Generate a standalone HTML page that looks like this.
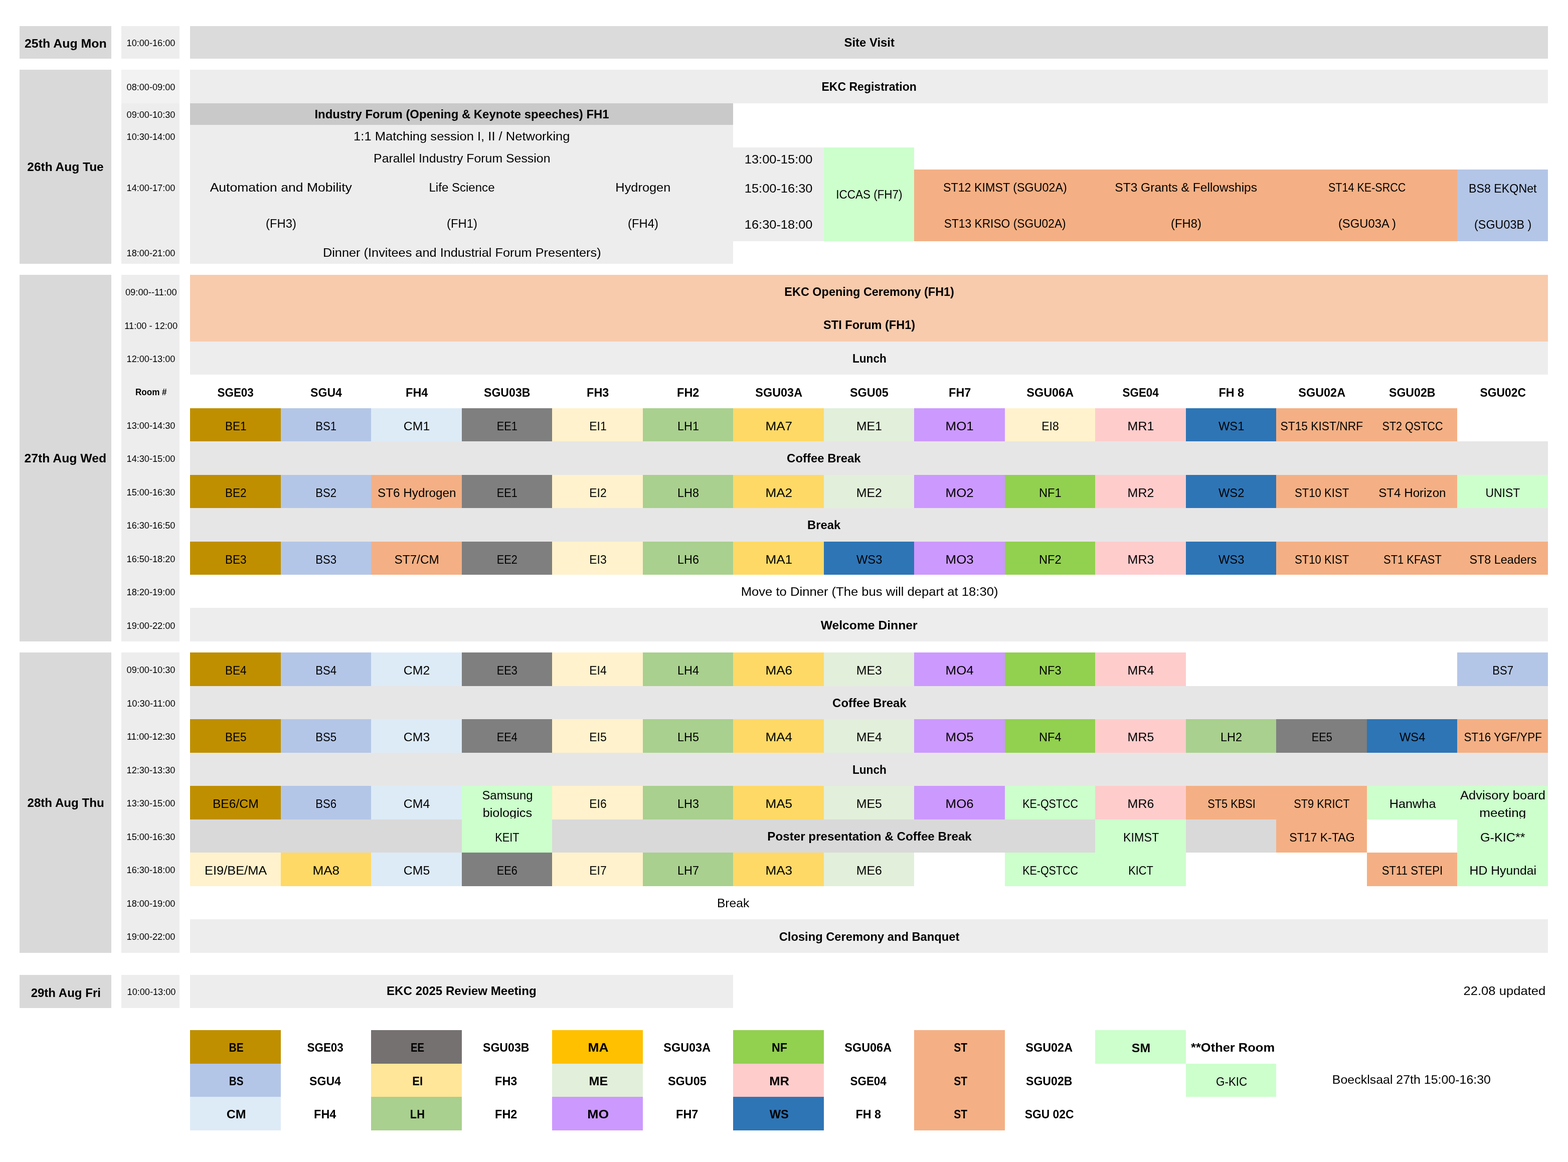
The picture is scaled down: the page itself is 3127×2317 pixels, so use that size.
<!DOCTYPE html>
<html lang="en">
<head>
<meta charset="utf-8">
<title>EKC 2025 Programme Schedule</title>
<style>
html,body{margin:0;padding:0;background:#fff}
body{width:3127px;height:2317px;position:relative;overflow:hidden;font-family:"Liberation Sans",Arial,sans-serif;color:#000}
.r{position:absolute}
.t{position:absolute;height:40px;line-height:40px;white-space:nowrap;text-align:center;font-size:24.6px}
.s{font-size:17.6px}
.b{font-weight:bold}
.t span{display:inline-block;transform-origin:50% 50%}
.l{text-align:left}.l span{transform-origin:0 50%}
.e{text-align:right}.e span{transform-origin:100% 50%}
</style>
</head>
<body>
<div class="r" style="left:39px;top:52px;width:183px;height:65px;background:#D9D9D9"></div>
<div class="r" style="left:39px;top:139px;width:183px;height:387px;background:#D9D9D9"></div>
<div class="r" style="left:39px;top:548px;width:183px;height:731px;background:#D9D9D9"></div>
<div class="r" style="left:39px;top:1301px;width:183px;height:599px;background:#D9D9D9"></div>
<div class="r" style="left:39px;top:1944px;width:183px;height:66px;background:#D9D9D9"></div>
<div class="r" style="left:242px;top:52px;width:116px;height:65px;background:#EDEDED"></div>
<div class="r" style="left:242px;top:139px;width:116px;height:387px;background:#EDEDED"></div>
<div class="r" style="left:242px;top:139px;width:116px;height:67px;background:#F2F2F2"></div>
<div class="r" style="left:242px;top:548px;width:116px;height:731px;background:#EDEDED"></div>
<div class="r" style="left:242px;top:1301px;width:116px;height:599px;background:#EDEDED"></div>
<div class="r" style="left:242px;top:1944px;width:116px;height:66px;background:#EDEDED"></div>
<div class="r" style="left:379px;top:52px;width:2708px;height:65px;background:#DBDBDB"></div>
<div class="r" style="left:379px;top:139px;width:2708px;height:67px;background:#EDEDED"></div>
<div class="r" style="left:379px;top:206px;width:1083px;height:43px;background:#C9C9C9"></div>
<div class="r" style="left:379px;top:249px;width:1083px;height:277px;background:#EDEDED"></div>
<div class="r" style="left:1462px;top:294px;width:181px;height:187px;background:#EDEDED"></div>
<div class="r" style="left:1643px;top:294px;width:180px;height:187px;background:#CCFFCC"></div>
<div class="r" style="left:1823px;top:338px;width:1083px;height:143px;background:#F4B084"></div>
<div class="r" style="left:2906px;top:338px;width:181px;height:143px;background:#B4C6E7"></div>
<div class="r" style="left:379px;top:548px;width:2708px;height:133px;background:#F8CBAD"></div>
<div class="r" style="left:379px;top:681px;width:2708px;height:66px;background:#EDEDED"></div>
<div class="r" style="left:379px;top:814px;width:181px;height:66px;background:#BF8F00"></div>
<div class="r" style="left:560px;top:814px;width:180px;height:66px;background:#B4C6E7"></div>
<div class="r" style="left:740px;top:814px;width:181px;height:66px;background:#DDEBF7"></div>
<div class="r" style="left:921px;top:814px;width:180px;height:66px;background:#7F7F7F"></div>
<div class="r" style="left:1101px;top:814px;width:181px;height:66px;background:#FFF2CC"></div>
<div class="r" style="left:1282px;top:814px;width:180px;height:66px;background:#A9D08E"></div>
<div class="r" style="left:1462px;top:814px;width:181px;height:66px;background:#FFD966"></div>
<div class="r" style="left:1643px;top:814px;width:180px;height:66px;background:#E2EFDA"></div>
<div class="r" style="left:1823px;top:814px;width:181px;height:66px;background:#CC99FF"></div>
<div class="r" style="left:2004px;top:814px;width:180px;height:66px;background:#FFF2CC"></div>
<div class="r" style="left:2184px;top:814px;width:181px;height:66px;background:#FFCCCC"></div>
<div class="r" style="left:2365px;top:814px;width:180px;height:66px;background:#2E75B6"></div>
<div class="r" style="left:2545px;top:814px;width:181px;height:66px;background:#F4B084"></div>
<div class="r" style="left:2726px;top:814px;width:180px;height:66px;background:#F4B084"></div>
<div class="r" style="left:379px;top:880px;width:2708px;height:67px;background:#E7E6E6"></div>
<div class="r" style="left:379px;top:947px;width:181px;height:66px;background:#BF8F00"></div>
<div class="r" style="left:560px;top:947px;width:180px;height:66px;background:#B4C6E7"></div>
<div class="r" style="left:740px;top:947px;width:181px;height:66px;background:#F4B084"></div>
<div class="r" style="left:921px;top:947px;width:180px;height:66px;background:#7F7F7F"></div>
<div class="r" style="left:1101px;top:947px;width:181px;height:66px;background:#FFF2CC"></div>
<div class="r" style="left:1282px;top:947px;width:180px;height:66px;background:#A9D08E"></div>
<div class="r" style="left:1462px;top:947px;width:181px;height:66px;background:#FFD966"></div>
<div class="r" style="left:1643px;top:947px;width:180px;height:66px;background:#E2EFDA"></div>
<div class="r" style="left:1823px;top:947px;width:181px;height:66px;background:#CC99FF"></div>
<div class="r" style="left:2004px;top:947px;width:180px;height:66px;background:#92D050"></div>
<div class="r" style="left:2184px;top:947px;width:181px;height:66px;background:#FFCCCC"></div>
<div class="r" style="left:2365px;top:947px;width:180px;height:66px;background:#2E75B6"></div>
<div class="r" style="left:2545px;top:947px;width:181px;height:66px;background:#F4B084"></div>
<div class="r" style="left:2726px;top:947px;width:180px;height:66px;background:#F4B084"></div>
<div class="r" style="left:2906px;top:947px;width:181px;height:66px;background:#CCFFCC"></div>
<div class="r" style="left:379px;top:1013px;width:2708px;height:67px;background:#E7E6E6"></div>
<div class="r" style="left:379px;top:1080px;width:181px;height:66px;background:#BF8F00"></div>
<div class="r" style="left:560px;top:1080px;width:180px;height:66px;background:#B4C6E7"></div>
<div class="r" style="left:740px;top:1080px;width:181px;height:66px;background:#F4B084"></div>
<div class="r" style="left:921px;top:1080px;width:180px;height:66px;background:#7F7F7F"></div>
<div class="r" style="left:1101px;top:1080px;width:181px;height:66px;background:#FFF2CC"></div>
<div class="r" style="left:1282px;top:1080px;width:180px;height:66px;background:#A9D08E"></div>
<div class="r" style="left:1462px;top:1080px;width:181px;height:66px;background:#FFD966"></div>
<div class="r" style="left:1643px;top:1080px;width:180px;height:66px;background:#2E75B6"></div>
<div class="r" style="left:1823px;top:1080px;width:181px;height:66px;background:#CC99FF"></div>
<div class="r" style="left:2004px;top:1080px;width:180px;height:66px;background:#92D050"></div>
<div class="r" style="left:2184px;top:1080px;width:181px;height:66px;background:#FFCCCC"></div>
<div class="r" style="left:2365px;top:1080px;width:180px;height:66px;background:#2E75B6"></div>
<div class="r" style="left:2545px;top:1080px;width:181px;height:66px;background:#F4B084"></div>
<div class="r" style="left:2726px;top:1080px;width:180px;height:66px;background:#F4B084"></div>
<div class="r" style="left:2906px;top:1080px;width:181px;height:66px;background:#F4B084"></div>
<div class="r" style="left:379px;top:1212px;width:2708px;height:67px;background:#EDEDED"></div>
<div class="r" style="left:379px;top:1301px;width:181px;height:67px;background:#BF8F00"></div>
<div class="r" style="left:560px;top:1301px;width:180px;height:67px;background:#B4C6E7"></div>
<div class="r" style="left:740px;top:1301px;width:181px;height:67px;background:#DDEBF7"></div>
<div class="r" style="left:921px;top:1301px;width:180px;height:67px;background:#7F7F7F"></div>
<div class="r" style="left:1101px;top:1301px;width:181px;height:67px;background:#FFF2CC"></div>
<div class="r" style="left:1282px;top:1301px;width:180px;height:67px;background:#A9D08E"></div>
<div class="r" style="left:1462px;top:1301px;width:181px;height:67px;background:#FFD966"></div>
<div class="r" style="left:1643px;top:1301px;width:180px;height:67px;background:#E2EFDA"></div>
<div class="r" style="left:1823px;top:1301px;width:181px;height:67px;background:#CC99FF"></div>
<div class="r" style="left:2004px;top:1301px;width:180px;height:67px;background:#92D050"></div>
<div class="r" style="left:2184px;top:1301px;width:181px;height:67px;background:#FFCCCC"></div>
<div class="r" style="left:2906px;top:1301px;width:181px;height:67px;background:#B4C6E7"></div>
<div class="r" style="left:379px;top:1368px;width:2708px;height:66px;background:#E7E6E6"></div>
<div class="r" style="left:379px;top:1434px;width:181px;height:67px;background:#BF8F00"></div>
<div class="r" style="left:560px;top:1434px;width:180px;height:67px;background:#B4C6E7"></div>
<div class="r" style="left:740px;top:1434px;width:181px;height:67px;background:#DDEBF7"></div>
<div class="r" style="left:921px;top:1434px;width:180px;height:67px;background:#7F7F7F"></div>
<div class="r" style="left:1101px;top:1434px;width:181px;height:67px;background:#FFF2CC"></div>
<div class="r" style="left:1282px;top:1434px;width:180px;height:67px;background:#A9D08E"></div>
<div class="r" style="left:1462px;top:1434px;width:181px;height:67px;background:#FFD966"></div>
<div class="r" style="left:1643px;top:1434px;width:180px;height:67px;background:#E2EFDA"></div>
<div class="r" style="left:1823px;top:1434px;width:181px;height:67px;background:#CC99FF"></div>
<div class="r" style="left:2004px;top:1434px;width:180px;height:67px;background:#92D050"></div>
<div class="r" style="left:2184px;top:1434px;width:181px;height:67px;background:#FFCCCC"></div>
<div class="r" style="left:2365px;top:1434px;width:180px;height:67px;background:#A9D08E"></div>
<div class="r" style="left:2545px;top:1434px;width:181px;height:67px;background:#7F7F7F"></div>
<div class="r" style="left:2726px;top:1434px;width:180px;height:67px;background:#2E75B6"></div>
<div class="r" style="left:2906px;top:1434px;width:181px;height:67px;background:#F4B084"></div>
<div class="r" style="left:379px;top:1501px;width:2708px;height:66px;background:#E7E6E6"></div>
<div class="r" style="left:379px;top:1567px;width:181px;height:67px;background:#BF8F00"></div>
<div class="r" style="left:560px;top:1567px;width:180px;height:67px;background:#B4C6E7"></div>
<div class="r" style="left:740px;top:1567px;width:181px;height:67px;background:#DDEBF7"></div>
<div class="r" style="left:921px;top:1567px;width:180px;height:67px;background:#CCFFCC"></div>
<div class="r" style="left:1101px;top:1567px;width:181px;height:67px;background:#FFF2CC"></div>
<div class="r" style="left:1282px;top:1567px;width:180px;height:67px;background:#A9D08E"></div>
<div class="r" style="left:1462px;top:1567px;width:181px;height:67px;background:#FFD966"></div>
<div class="r" style="left:1643px;top:1567px;width:180px;height:67px;background:#E2EFDA"></div>
<div class="r" style="left:1823px;top:1567px;width:181px;height:67px;background:#CC99FF"></div>
<div class="r" style="left:2004px;top:1567px;width:180px;height:67px;background:#CCFFCC"></div>
<div class="r" style="left:2184px;top:1567px;width:181px;height:67px;background:#FFCCCC"></div>
<div class="r" style="left:2365px;top:1567px;width:180px;height:67px;background:#F4B084"></div>
<div class="r" style="left:2545px;top:1567px;width:181px;height:67px;background:#F4B084"></div>
<div class="r" style="left:2726px;top:1567px;width:180px;height:67px;background:#CCFFCC"></div>
<div class="r" style="left:2906px;top:1567px;width:181px;height:67px;background:#CCFFCC"></div>
<div class="r" style="left:379px;top:1634px;width:542px;height:66px;background:#D9D9D9"></div>
<div class="r" style="left:921px;top:1634px;width:180px;height:66px;background:#CCFFCC"></div>
<div class="r" style="left:1101px;top:1634px;width:1083px;height:66px;background:#D9D9D9"></div>
<div class="r" style="left:2184px;top:1634px;width:181px;height:66px;background:#CCFFCC"></div>
<div class="r" style="left:2365px;top:1634px;width:180px;height:66px;background:#D9D9D9"></div>
<div class="r" style="left:2545px;top:1634px;width:181px;height:66px;background:#F4B084"></div>
<div class="r" style="left:2906px;top:1634px;width:181px;height:66px;background:#CCFFCC"></div>
<div class="r" style="left:379px;top:1700px;width:181px;height:67px;background:#FFF2CC"></div>
<div class="r" style="left:560px;top:1700px;width:180px;height:67px;background:#FFD966"></div>
<div class="r" style="left:740px;top:1700px;width:181px;height:67px;background:#DDEBF7"></div>
<div class="r" style="left:921px;top:1700px;width:180px;height:67px;background:#7F7F7F"></div>
<div class="r" style="left:1101px;top:1700px;width:181px;height:67px;background:#FFF2CC"></div>
<div class="r" style="left:1282px;top:1700px;width:180px;height:67px;background:#A9D08E"></div>
<div class="r" style="left:1462px;top:1700px;width:181px;height:67px;background:#FFD966"></div>
<div class="r" style="left:1643px;top:1700px;width:180px;height:67px;background:#E2EFDA"></div>
<div class="r" style="left:2004px;top:1700px;width:180px;height:67px;background:#CCFFCC"></div>
<div class="r" style="left:2184px;top:1700px;width:181px;height:67px;background:#CCFFCC"></div>
<div class="r" style="left:2726px;top:1700px;width:180px;height:67px;background:#F4B084"></div>
<div class="r" style="left:2906px;top:1700px;width:181px;height:67px;background:#CCFFCC"></div>
<div class="r" style="left:379px;top:1833px;width:2708px;height:67px;background:#EDEDED"></div>
<div class="r" style="left:379px;top:1944px;width:1083px;height:66px;background:#EDEDED"></div>
<div class="r" style="left:379px;top:2054px;width:181px;height:67px;background:#BF8F00"></div>
<div class="r" style="left:740px;top:2054px;width:181px;height:67px;background:#767171"></div>
<div class="r" style="left:1101px;top:2054px;width:181px;height:67px;background:#FFC000"></div>
<div class="r" style="left:1462px;top:2054px;width:181px;height:67px;background:#92D050"></div>
<div class="r" style="left:1823px;top:2054px;width:181px;height:67px;background:#F4B084"></div>
<div class="r" style="left:379px;top:2121px;width:181px;height:66px;background:#B4C6E7"></div>
<div class="r" style="left:740px;top:2121px;width:181px;height:66px;background:#FFE699"></div>
<div class="r" style="left:1101px;top:2121px;width:181px;height:66px;background:#E2EFDA"></div>
<div class="r" style="left:1462px;top:2121px;width:181px;height:66px;background:#FFCCCC"></div>
<div class="r" style="left:1823px;top:2121px;width:181px;height:66px;background:#F4B084"></div>
<div class="r" style="left:379px;top:2187px;width:181px;height:67px;background:#DDEBF7"></div>
<div class="r" style="left:740px;top:2187px;width:181px;height:67px;background:#A9D08E"></div>
<div class="r" style="left:1101px;top:2187px;width:181px;height:67px;background:#CC99FF"></div>
<div class="r" style="left:1462px;top:2187px;width:181px;height:67px;background:#2E75B6"></div>
<div class="r" style="left:1823px;top:2187px;width:181px;height:67px;background:#F4B084"></div>
<div class="r" style="left:2184px;top:2054px;width:181px;height:67px;background:#CCFFCC"></div>
<div class="r" style="left:2365px;top:2121px;width:180px;height:66px;background:#CCFFCC"></div>
<div class="t b" style="left:39.6px;top:67px;width:182.4px"><span style="transform:scaleX(1.013)">25th Aug Mon</span></div>
<div class="t b" style="left:39.6px;top:313px;width:182.4px"><span style="transform:scaleX(0.996)">26th Aug Tue</span></div>
<div class="t b" style="left:39.6px;top:894px;width:182.4px"><span style="transform:scaleX(1.007)">27th Aug Wed</span></div>
<div class="t b" style="left:39.6px;top:1581px;width:182.4px"><span style="transform:scaleX(0.981)">28th Aug Thu</span></div>
<div class="t b" style="left:39.6px;top:1960px;width:182.4px"><span style="transform:scaleX(0.977)">29th Aug Fri</span></div>
<div class="t s" style="left:243.1px;top:66px;width:115.6px"><span style="transform:scaleX(1.030)">10:00-16:00</span></div>
<div class="t s" style="left:243.1px;top:154px;width:115.6px"><span style="transform:scaleX(1.030)">08:00-09:00</span></div>
<div class="t s" style="left:243.1px;top:209px;width:115.6px"><span style="transform:scaleX(1.030)">09:00-10:30</span></div>
<div class="t s" style="left:243.1px;top:253px;width:115.6px"><span style="transform:scaleX(1.030)">10:30-14:00</span></div>
<div class="t s" style="left:243.1px;top:355px;width:115.6px"><span style="transform:scaleX(1.030)">14:00-17:00</span></div>
<div class="t s" style="left:243.1px;top:485px;width:115.6px"><span style="transform:scaleX(1.030)">18:00-21:00</span></div>
<div class="t s" style="left:243.1px;top:563px;width:115.6px"><span style="transform:scaleX(1.043)">09:00--11:00</span></div>
<div class="t s" style="left:243.1px;top:630px;width:115.6px"><span style="transform:scaleX(1.032)">11:00 - 12:00</span></div>
<div class="t s" style="left:243.1px;top:696px;width:115.6px"><span style="transform:scaleX(1.030)">12:00-13:00</span></div>
<div class="t s b" style="left:243.1px;top:762px;width:115.6px"><span style="transform:scaleX(0.972)">Room #</span></div>
<div class="t s" style="left:243.1px;top:829px;width:115.6px"><span style="transform:scaleX(1.030)">13:00-14:30</span></div>
<div class="t s" style="left:243.1px;top:895px;width:115.6px"><span style="transform:scaleX(1.030)">14:30-15:00</span></div>
<div class="t s" style="left:243.1px;top:962px;width:115.6px"><span style="transform:scaleX(1.030)">15:00-16:30</span></div>
<div class="t s" style="left:243.1px;top:1028px;width:115.6px"><span style="transform:scaleX(1.030)">16:30-16:50</span></div>
<div class="t s" style="left:243.1px;top:1095px;width:115.6px"><span style="transform:scaleX(1.030)">16:50-18:20</span></div>
<div class="t s" style="left:243.1px;top:1161px;width:115.6px"><span style="transform:scaleX(1.030)">18:20-19:00</span></div>
<div class="t s" style="left:243.1px;top:1228px;width:115.6px"><span style="transform:scaleX(1.030)">19:00-22:00</span></div>
<div class="t s" style="left:243.1px;top:1316px;width:115.6px"><span style="transform:scaleX(1.030)">09:00-10:30</span></div>
<div class="t s" style="left:243.1px;top:1383px;width:115.6px"><span style="transform:scaleX(1.044)">10:30-11:00</span></div>
<div class="t s" style="left:243.1px;top:1449px;width:115.6px"><span style="transform:scaleX(1.044)">11:00-12:30</span></div>
<div class="t s" style="left:243.1px;top:1516px;width:115.6px"><span style="transform:scaleX(1.030)">12:30-13:30</span></div>
<div class="t s" style="left:243.1px;top:1582px;width:115.6px"><span style="transform:scaleX(1.030)">13:30-15:00</span></div>
<div class="t s" style="left:243.1px;top:1649px;width:115.6px"><span style="transform:scaleX(1.030)">15:00-16:30</span></div>
<div class="t s" style="left:243.1px;top:1715px;width:115.6px"><span style="transform:scaleX(1.030)">16:30-18:00</span></div>
<div class="t s" style="left:243.1px;top:1782px;width:115.6px"><span style="transform:scaleX(1.030)">18:00-19:00</span></div>
<div class="t s" style="left:243.1px;top:1848px;width:115.6px"><span style="transform:scaleX(1.030)">19:00-22:00</span></div>
<div class="t s" style="left:244.3px;top:1958px;width:115.6px"><span style="transform:scaleX(1.030)">10:00-13:00</span></div>
<div class="t b" style="left:379.75px;top:65px;width:2707.65px"><span style="transform:scaleX(0.971)">Site Visit</span></div>
<div class="t b" style="left:379.75px;top:153px;width:2707.65px"><span style="transform:scaleX(0.936)">EKC Registration</span></div>
<div class="t b" style="left:379.75px;top:208px;width:1083.06px"><span style="transform:scaleX(0.972)">Industry Forum (Opening &amp; Keynote speeches) FH1</span></div>
<div class="t" style="left:379.75px;top:252px;width:1083.06px"><span style="transform:scaleX(1.038)">1:1 Matching session I, II / Networking</span></div>
<div class="t" style="left:379.75px;top:296px;width:1083.06px"><span style="transform:scaleX(1.011)">Parallel Industry Forum Session</span></div>
<div class="t" style="left:379.75px;top:354px;width:361.02px"><span style="transform:scaleX(1.079)">Automation and Mobility</span></div>
<div class="t" style="left:379.75px;top:426px;width:361.02px"><span style="transform:scaleX(0.967)">(FH3)</span></div>
<div class="t" style="left:740.77px;top:354px;width:361.02px"><span style="transform:scaleX(0.978)">Life Science</span></div>
<div class="t" style="left:740.77px;top:426px;width:361.02px"><span style="transform:scaleX(0.967)">(FH1)</span></div>
<div class="t" style="left:1101.79px;top:354px;width:361.02px"><span style="transform:scaleX(1.031)">Hydrogen</span></div>
<div class="t" style="left:1101.79px;top:426px;width:361.02px"><span style="transform:scaleX(0.967)">(FH4)</span></div>
<div class="t" style="left:379.75px;top:484px;width:1083.06px"><span style="transform:scaleX(1.030)">Dinner (Invitees and Industrial Forum Presenters)</span></div>
<div class="t" style="left:1462.81px;top:298px;width:180.51px"><span style="transform:scaleX(1.033)">13:00-15:00</span></div>
<div class="t" style="left:1462.81px;top:356px;width:180.51px"><span style="transform:scaleX(1.033)">15:00-16:30</span></div>
<div class="t" style="left:1462.81px;top:428px;width:180.51px"><span style="transform:scaleX(1.033)">16:30-18:00</span></div>
<div class="t" style="left:1643.32px;top:368px;width:180.51px"><span style="transform:scaleX(0.913)">ICCAS (FH7)</span></div>
<div class="t" style="left:1823.83px;top:354px;width:361.02px"><span style="transform:scaleX(0.947)">ST12 KIMST (SGU02A)</span></div>
<div class="t" style="left:1823.83px;top:426px;width:361.02px"><span style="transform:scaleX(0.926)">ST13 KRISO (SGU02A)</span></div>
<div class="t" style="left:2184.85px;top:354px;width:361.02px"><span style="transform:scaleX(0.998)">ST3 Grants &amp; Fellowships</span></div>
<div class="t" style="left:2184.85px;top:426px;width:361.02px"><span style="transform:scaleX(0.967)">(FH8)</span></div>
<div class="t" style="left:2545.87px;top:354px;width:361.02px"><span style="transform:scaleX(0.875)">ST14 KE-SRCC</span></div>
<div class="t" style="left:2545.87px;top:426px;width:361.02px"><span style="transform:scaleX(0.968)">(SGU03A )</span></div>
<div class="t" style="left:2906.89px;top:356px;width:180.51px"><span style="transform:scaleX(0.945)">BS8 EKQNet</span></div>
<div class="t" style="left:2906.89px;top:428px;width:180.51px"><span style="transform:scaleX(0.949)">(SGU03B )</span></div>
<div class="t b" style="left:379.75px;top:562px;width:2707.65px"><span style="transform:scaleX(0.953)">EKC Opening Ceremony (FH1)</span></div>
<div class="t b" style="left:379.75px;top:628px;width:2707.65px"><span style="transform:scaleX(0.957)">STI Forum (FH1)</span></div>
<div class="t b" style="left:379.75px;top:695px;width:2707.65px"><span style="transform:scaleX(0.920)">Lunch</span></div>
<div class="t b" style="left:379.75px;top:763px;width:180.51px"><span style="transform:scaleX(0.912)">SGE03</span></div>
<div class="t b" style="left:560.26px;top:763px;width:180.51px"><span style="transform:scaleX(0.938)">SGU4</span></div>
<div class="t b" style="left:740.77px;top:763px;width:180.51px"><span style="transform:scaleX(0.952)">FH4</span></div>
<div class="t b" style="left:921.28px;top:763px;width:180.51px"><span style="transform:scaleX(0.939)">SGU03B</span></div>
<div class="t b" style="left:1101.79px;top:763px;width:180.51px"><span style="transform:scaleX(0.952)">FH3</span></div>
<div class="t b" style="left:1282.3px;top:763px;width:180.51px"><span style="transform:scaleX(0.952)">FH2</span></div>
<div class="t b" style="left:1462.81px;top:763px;width:180.51px"><span style="transform:scaleX(0.952)">SGU03A</span></div>
<div class="t b" style="left:1643.32px;top:763px;width:180.51px"><span style="transform:scaleX(0.953)">SGU05</span></div>
<div class="t b" style="left:1823.83px;top:763px;width:180.51px"><span style="transform:scaleX(0.952)">FH7</span></div>
<div class="t b" style="left:2004.34px;top:763px;width:180.51px"><span style="transform:scaleX(0.952)">SGU06A</span></div>
<div class="t b" style="left:2184.85px;top:763px;width:180.51px"><span style="transform:scaleX(0.912)">SGE04</span></div>
<div class="t b" style="left:2365.36px;top:763px;width:180.51px"><span style="transform:scaleX(0.947)">FH 8</span></div>
<div class="t b" style="left:2545.87px;top:763px;width:180.51px"><span style="transform:scaleX(0.952)">SGU02A</span></div>
<div class="t b" style="left:2726.38px;top:763px;width:180.51px"><span style="transform:scaleX(0.939)">SGU02B</span></div>
<div class="t b" style="left:2906.89px;top:763px;width:180.51px"><span style="transform:scaleX(0.930)">SGU02C</span></div>
<div class="t" style="left:379.75px;top:830px;width:180.51px"><span style="transform:scaleX(0.917)">BE1</span></div>
<div class="t" style="left:560.26px;top:830px;width:180.51px"><span style="transform:scaleX(0.900)">BS1</span></div>
<div class="t" style="left:740.77px;top:830px;width:180.51px"><span style="transform:scaleX(1.011)">CM1</span></div>
<div class="t" style="left:921.28px;top:830px;width:180.51px"><span style="transform:scaleX(0.883)">EE1</span></div>
<div class="t" style="left:1101.79px;top:830px;width:180.51px"><span style="transform:scaleX(0.935)">EI1</span></div>
<div class="t" style="left:1282.3px;top:830px;width:180.51px"><span style="transform:scaleX(0.951)">LH1</span></div>
<div class="t" style="left:1462.81px;top:830px;width:180.51px"><span style="transform:scaleX(1.063)">MA7</span></div>
<div class="t" style="left:1643.32px;top:830px;width:180.51px"><span style="transform:scaleX(1.013)">ME1</span></div>
<div class="t" style="left:1823.83px;top:830px;width:180.51px"><span style="transform:scaleX(1.052)">MO1</span></div>
<div class="t" style="left:2004.34px;top:830px;width:180.51px"><span style="transform:scaleX(0.935)">EI8</span></div>
<div class="t" style="left:2184.85px;top:830px;width:180.51px"><span style="transform:scaleX(1.016)">MR1</span></div>
<div class="t" style="left:2365.36px;top:830px;width:180.51px"><span style="transform:scaleX(0.964)">WS1</span></div>
<div class="t" style="left:2545.87px;top:830px;width:180.51px"><span style="transform:scaleX(0.926)">ST15 KIST/NRF</span></div>
<div class="t" style="left:2726.38px;top:830px;width:180.51px"><span style="transform:scaleX(0.876)">ST2 QSTCC</span></div>
<div class="t b" style="left:379.75px;top:894px;width:2527.14px"><span style="transform:scaleX(0.972)">Coffee Break</span></div>
<div class="t" style="left:379.75px;top:963px;width:180.51px"><span style="transform:scaleX(0.917)">BE2</span></div>
<div class="t" style="left:560.26px;top:963px;width:180.51px"><span style="transform:scaleX(0.900)">BS2</span></div>
<div class="t" style="left:740.77px;top:963px;width:180.51px"><span style="transform:scaleX(0.987)">ST6 Hydrogen</span></div>
<div class="t" style="left:921.28px;top:963px;width:180.51px"><span style="transform:scaleX(0.883)">EE1</span></div>
<div class="t" style="left:1101.79px;top:963px;width:180.51px"><span style="transform:scaleX(0.935)">EI2</span></div>
<div class="t" style="left:1282.3px;top:963px;width:180.51px"><span style="transform:scaleX(0.951)">LH8</span></div>
<div class="t" style="left:1462.81px;top:963px;width:180.51px"><span style="transform:scaleX(1.063)">MA2</span></div>
<div class="t" style="left:1643.32px;top:963px;width:180.51px"><span style="transform:scaleX(1.013)">ME2</span></div>
<div class="t" style="left:1823.83px;top:963px;width:180.51px"><span style="transform:scaleX(1.052)">MO2</span></div>
<div class="t" style="left:2004.34px;top:963px;width:180.51px"><span style="transform:scaleX(0.961)">NF1</span></div>
<div class="t" style="left:2184.85px;top:963px;width:180.51px"><span style="transform:scaleX(1.016)">MR2</span></div>
<div class="t" style="left:2365.36px;top:963px;width:180.51px"><span style="transform:scaleX(0.964)">WS2</span></div>
<div class="t" style="left:2545.87px;top:963px;width:180.51px"><span style="transform:scaleX(0.899)">ST10 KIST</span></div>
<div class="t" style="left:2726.38px;top:963px;width:180.51px"><span style="transform:scaleX(0.983)">ST4 Horizon</span></div>
<div class="t" style="left:2906.89px;top:963px;width:180.51px"><span style="transform:scaleX(0.933)">UNIST</span></div>
<div class="t b" style="left:379.75px;top:1027px;width:2527.14px"><span style="transform:scaleX(0.969)">Break</span></div>
<div class="t" style="left:379.75px;top:1096px;width:180.51px"><span style="transform:scaleX(0.917)">BE3</span></div>
<div class="t" style="left:560.26px;top:1096px;width:180.51px"><span style="transform:scaleX(0.900)">BS3</span></div>
<div class="t" style="left:740.77px;top:1096px;width:180.51px"><span style="transform:scaleX(0.991)">ST7/CM</span></div>
<div class="t" style="left:921.28px;top:1096px;width:180.51px"><span style="transform:scaleX(0.883)">EE2</span></div>
<div class="t" style="left:1101.79px;top:1096px;width:180.51px"><span style="transform:scaleX(0.935)">EI3</span></div>
<div class="t" style="left:1282.3px;top:1096px;width:180.51px"><span style="transform:scaleX(0.951)">LH6</span></div>
<div class="t" style="left:1462.81px;top:1096px;width:180.51px"><span style="transform:scaleX(1.063)">MA1</span></div>
<div class="t" style="left:1643.32px;top:1096px;width:180.51px"><span style="transform:scaleX(0.964)">WS3</span></div>
<div class="t" style="left:1823.83px;top:1096px;width:180.51px"><span style="transform:scaleX(1.052)">MO3</span></div>
<div class="t" style="left:2004.34px;top:1096px;width:180.51px"><span style="transform:scaleX(0.961)">NF2</span></div>
<div class="t" style="left:2184.85px;top:1096px;width:180.51px"><span style="transform:scaleX(1.016)">MR3</span></div>
<div class="t" style="left:2365.36px;top:1096px;width:180.51px"><span style="transform:scaleX(0.964)">WS3</span></div>
<div class="t" style="left:2545.87px;top:1096px;width:180.51px"><span style="transform:scaleX(0.899)">ST10 KIST</span></div>
<div class="t" style="left:2726.38px;top:1096px;width:180.51px"><span style="transform:scaleX(0.892)">ST1 KFAST</span></div>
<div class="t" style="left:2906.89px;top:1096px;width:180.51px"><span style="transform:scaleX(0.952)">ST8 Leaders</span></div>
<div class="t" style="left:379.75px;top:1160px;width:2707.65px"><span style="transform:scaleX(1.042)">Move to Dinner (The bus will depart at 18:30)</span></div>
<div class="t b" style="left:379.75px;top:1227px;width:2707.65px"><span style="transform:scaleX(1.003)">Welcome Dinner</span></div>
<div class="t" style="left:379.75px;top:1317px;width:180.51px"><span style="transform:scaleX(0.917)">BE4</span></div>
<div class="t" style="left:560.26px;top:1317px;width:180.51px"><span style="transform:scaleX(0.900)">BS4</span></div>
<div class="t" style="left:740.77px;top:1317px;width:180.51px"><span style="transform:scaleX(1.011)">CM2</span></div>
<div class="t" style="left:921.28px;top:1317px;width:180.51px"><span style="transform:scaleX(0.883)">EE3</span></div>
<div class="t" style="left:1101.79px;top:1317px;width:180.51px"><span style="transform:scaleX(0.935)">EI4</span></div>
<div class="t" style="left:1282.3px;top:1317px;width:180.51px"><span style="transform:scaleX(0.951)">LH4</span></div>
<div class="t" style="left:1462.81px;top:1317px;width:180.51px"><span style="transform:scaleX(1.063)">MA6</span></div>
<div class="t" style="left:1643.32px;top:1317px;width:180.51px"><span style="transform:scaleX(1.013)">ME3</span></div>
<div class="t" style="left:1823.83px;top:1317px;width:180.51px"><span style="transform:scaleX(1.052)">MO4</span></div>
<div class="t" style="left:2004.34px;top:1317px;width:180.51px"><span style="transform:scaleX(0.961)">NF3</span></div>
<div class="t" style="left:2184.85px;top:1317px;width:180.51px"><span style="transform:scaleX(1.016)">MR4</span></div>
<div class="t" style="left:2906.89px;top:1317px;width:180.51px"><span style="transform:scaleX(0.900)">BS7</span></div>
<div class="t b" style="left:379.75px;top:1382px;width:2707.65px"><span style="transform:scaleX(0.972)">Coffee Break</span></div>
<div class="t" style="left:379.75px;top:1450px;width:180.51px"><span style="transform:scaleX(0.917)">BE5</span></div>
<div class="t" style="left:560.26px;top:1450px;width:180.51px"><span style="transform:scaleX(0.900)">BS5</span></div>
<div class="t" style="left:740.77px;top:1450px;width:180.51px"><span style="transform:scaleX(1.011)">CM3</span></div>
<div class="t" style="left:921.28px;top:1450px;width:180.51px"><span style="transform:scaleX(0.883)">EE4</span></div>
<div class="t" style="left:1101.79px;top:1450px;width:180.51px"><span style="transform:scaleX(0.935)">EI5</span></div>
<div class="t" style="left:1282.3px;top:1450px;width:180.51px"><span style="transform:scaleX(0.951)">LH5</span></div>
<div class="t" style="left:1462.81px;top:1450px;width:180.51px"><span style="transform:scaleX(1.063)">MA4</span></div>
<div class="t" style="left:1643.32px;top:1450px;width:180.51px"><span style="transform:scaleX(1.013)">ME4</span></div>
<div class="t" style="left:1823.83px;top:1450px;width:180.51px"><span style="transform:scaleX(1.052)">MO5</span></div>
<div class="t" style="left:2004.34px;top:1450px;width:180.51px"><span style="transform:scaleX(0.961)">NF4</span></div>
<div class="t" style="left:2184.85px;top:1450px;width:180.51px"><span style="transform:scaleX(1.016)">MR5</span></div>
<div class="t" style="left:2365.36px;top:1450px;width:180.51px"><span style="transform:scaleX(0.951)">LH2</span></div>
<div class="t" style="left:2545.87px;top:1450px;width:180.51px"><span style="transform:scaleX(0.883)">EE5</span></div>
<div class="t" style="left:2726.38px;top:1450px;width:180.51px"><span style="transform:scaleX(0.964)">WS4</span></div>
<div class="t" style="left:2906.89px;top:1450px;width:180.51px"><span style="transform:scaleX(0.912)">ST16 YGF/YPF</span></div>
<div class="t b" style="left:379.75px;top:1515px;width:2707.65px"><span style="transform:scaleX(0.920)">Lunch</span></div>
<div class="t" style="left:379.75px;top:1583px;width:180.51px"><span style="transform:scaleX(1.002)">BE6/CM</span></div>
<div class="t" style="left:560.26px;top:1583px;width:180.51px"><span style="transform:scaleX(0.900)">BS6</span></div>
<div class="t" style="left:740.77px;top:1583px;width:180.51px"><span style="transform:scaleX(1.011)">CM4</span></div>
<div class="t" style="left:1101.79px;top:1583px;width:180.51px"><span style="transform:scaleX(0.935)">EI6</span></div>
<div class="t" style="left:1282.3px;top:1583px;width:180.51px"><span style="transform:scaleX(0.951)">LH3</span></div>
<div class="t" style="left:1462.81px;top:1583px;width:180.51px"><span style="transform:scaleX(1.063)">MA5</span></div>
<div class="t" style="left:1643.32px;top:1583px;width:180.51px"><span style="transform:scaleX(1.013)">ME5</span></div>
<div class="t" style="left:1823.83px;top:1583px;width:180.51px"><span style="transform:scaleX(1.052)">MO6</span></div>
<div class="t" style="left:2004.34px;top:1583px;width:180.51px"><span style="transform:scaleX(0.871)">KE-QSTCC</span></div>
<div class="t" style="left:2184.85px;top:1583px;width:180.51px"><span style="transform:scaleX(1.016)">MR6</span></div>
<div class="t" style="left:2365.36px;top:1583px;width:180.51px"><span style="transform:scaleX(0.886)">ST5 KBSI</span></div>
<div class="t" style="left:2545.87px;top:1583px;width:180.51px"><span style="transform:scaleX(0.884)">ST9 KRICT</span></div>
<div class="t" style="left:2726.38px;top:1583px;width:180.51px"><span style="transform:scaleX(1.027)">Hanwha</span></div>
<div class="t" style="left:921.28px;top:1566px;width:180.51px"><span style="transform:scaleX(0.973)">Samsung</span></div>
<div class="t" style="left:921.28px;top:1601px;width:180.51px;height:31px;overflow:hidden"><span style="transform:scaleX(1.028)">biologics</span></div>
<div class="t" style="left:2906.89px;top:1566px;width:180.51px"><span style="transform:scaleX(1.036)">Advisory board</span></div>
<div class="t" style="left:2906.89px;top:1601px;width:180.51px;height:31px;overflow:hidden"><span style="transform:scaleX(1.062)">meeting</span></div>
<div class="t" style="left:921.28px;top:1650px;width:180.51px"><span style="transform:scaleX(0.885)">KEIT</span></div>
<div class="t b" style="left:379.75px;top:1648px;width:2707.65px"><span style="transform:scaleX(0.984)">Poster presentation &amp; Coffee Break</span></div>
<div class="t" style="left:2184.85px;top:1650px;width:180.51px"><span style="transform:scaleX(0.948)">KIMST</span></div>
<div class="t" style="left:2545.87px;top:1650px;width:180.51px"><span style="transform:scaleX(0.939)">ST17 K-TAG</span></div>
<div class="t" style="left:2906.89px;top:1650px;width:180.51px"><span style="transform:scaleX(1.025)">G-KIC**</span></div>
<div class="t" style="left:379.75px;top:1716px;width:180.51px"><span style="transform:scaleX(1.033)">EI9/BE/MA</span></div>
<div class="t" style="left:560.26px;top:1716px;width:180.51px"><span style="transform:scaleX(1.063)">MA8</span></div>
<div class="t" style="left:740.77px;top:1716px;width:180.51px"><span style="transform:scaleX(1.011)">CM5</span></div>
<div class="t" style="left:921.28px;top:1716px;width:180.51px"><span style="transform:scaleX(0.883)">EE6</span></div>
<div class="t" style="left:1101.79px;top:1716px;width:180.51px"><span style="transform:scaleX(0.935)">EI7</span></div>
<div class="t" style="left:1282.3px;top:1716px;width:180.51px"><span style="transform:scaleX(0.951)">LH7</span></div>
<div class="t" style="left:1462.81px;top:1716px;width:180.51px"><span style="transform:scaleX(1.063)">MA3</span></div>
<div class="t" style="left:1643.32px;top:1716px;width:180.51px"><span style="transform:scaleX(1.013)">ME6</span></div>
<div class="t" style="left:2004.34px;top:1716px;width:180.51px"><span style="transform:scaleX(0.871)">KE-QSTCC</span></div>
<div class="t" style="left:2184.85px;top:1716px;width:180.51px"><span style="transform:scaleX(0.886)">KICT</span></div>
<div class="t" style="left:2726.38px;top:1716px;width:180.51px"><span style="transform:scaleX(0.901)">ST11 STEPI</span></div>
<div class="t" style="left:2906.89px;top:1716px;width:180.51px"><span style="transform:scaleX(1.007)">HD Hyundai</span></div>
<div class="t" style="left:378.65px;top:1781px;width:2166.12px"><span style="transform:scaleX(1.002)">Break</span></div>
<div class="t b" style="left:379.75px;top:1848px;width:2707.65px"><span style="transform:scaleX(0.964)">Closing Ceremony and Banquet</span></div>
<div class="t b" style="left:379.05px;top:1956px;width:1083.06px"><span style="transform:scaleX(0.980)">EKC 2025 Review Meeting</span></div>
<div class="t e" style="left:2725.68px;top:1956px;width:356.52px"><span style="transform:scaleX(1.042)">22.08 updated</span></div>
<div class="t b" style="left:380.95px;top:2069px;width:180.51px"><span style="transform:scaleX(0.850)">BE</span></div>
<div class="t b" style="left:558.16px;top:2069px;width:180.51px"><span style="transform:scaleX(0.912)">SGE03</span></div>
<div class="t b" style="left:741.97px;top:2069px;width:180.51px"><span style="transform:scaleX(0.824)">EE</span></div>
<div class="t b" style="left:919.18px;top:2069px;width:180.51px"><span style="transform:scaleX(0.939)">SGU03B</span></div>
<div class="t b" style="left:1102.99px;top:2069px;width:180.51px"><span style="transform:scaleX(1.072)">MA</span></div>
<div class="t b" style="left:1280.2px;top:2069px;width:180.51px"><span style="transform:scaleX(0.952)">SGU03A</span></div>
<div class="t b" style="left:1464.01px;top:2069px;width:180.51px"><span style="transform:scaleX(0.945)">NF</span></div>
<div class="t b" style="left:1641.22px;top:2069px;width:180.51px"><span style="transform:scaleX(0.952)">SGU06A</span></div>
<div class="t b" style="left:1825.03px;top:2069px;width:180.51px"><span style="transform:scaleX(0.853)">ST</span></div>
<div class="t b" style="left:2002.24px;top:2069px;width:180.51px"><span style="transform:scaleX(0.952)">SGU02A</span></div>
<div class="t b" style="left:380.95px;top:2136px;width:180.51px"><span style="transform:scaleX(0.838)">BS</span></div>
<div class="t b" style="left:558.16px;top:2136px;width:180.51px"><span style="transform:scaleX(0.938)">SGU4</span></div>
<div class="t b" style="left:741.97px;top:2136px;width:180.51px"><span style="transform:scaleX(0.900)">EI</span></div>
<div class="t b" style="left:919.18px;top:2136px;width:180.51px"><span style="transform:scaleX(0.952)">FH3</span></div>
<div class="t b" style="left:1102.99px;top:2136px;width:180.51px"><span style="transform:scaleX(1.022)">ME</span></div>
<div class="t b" style="left:1280.2px;top:2136px;width:180.51px"><span style="transform:scaleX(0.953)">SGU05</span></div>
<div class="t b" style="left:1464.01px;top:2136px;width:180.51px"><span style="transform:scaleX(1.040)">MR</span></div>
<div class="t b" style="left:1641.22px;top:2136px;width:180.51px"><span style="transform:scaleX(0.912)">SGE04</span></div>
<div class="t b" style="left:1825.03px;top:2136px;width:180.51px"><span style="transform:scaleX(0.853)">ST</span></div>
<div class="t b" style="left:2002.24px;top:2136px;width:180.51px"><span style="transform:scaleX(0.939)">SGU02B</span></div>
<div class="t b" style="left:380.95px;top:2202px;width:180.51px"><span style="transform:scaleX(1.016)">CM</span></div>
<div class="t b" style="left:558.16px;top:2202px;width:180.51px"><span style="transform:scaleX(0.952)">FH4</span></div>
<div class="t b" style="left:741.97px;top:2202px;width:180.51px"><span style="transform:scaleX(0.890)">LH</span></div>
<div class="t b" style="left:919.18px;top:2202px;width:180.51px"><span style="transform:scaleX(0.952)">FH2</span></div>
<div class="t b" style="left:1102.99px;top:2202px;width:180.51px"><span style="transform:scaleX(1.083)">MO</span></div>
<div class="t b" style="left:1280.2px;top:2202px;width:180.51px"><span style="transform:scaleX(0.952)">FH7</span></div>
<div class="t b" style="left:1464.01px;top:2202px;width:180.51px"><span style="transform:scaleX(0.964)">WS</span></div>
<div class="t b" style="left:1641.22px;top:2202px;width:180.51px"><span style="transform:scaleX(0.947)">FH 8</span></div>
<div class="t b" style="left:1825.03px;top:2202px;width:180.51px"><span style="transform:scaleX(0.853)">ST</span></div>
<div class="t b" style="left:2002.24px;top:2202px;width:180.51px"><span style="transform:scaleX(0.929)">SGU 02C</span></div>
<div class="t b" style="left:2185.15px;top:2070px;width:180.51px"><span style="transform:scaleX(1.011)">SM</span></div>
<div class="t b l" style="left:2374.66px;top:2069px;width:351.02px"><span style="transform:scaleX(1.036)">**Other Room</span></div>
<div class="t" style="left:2365.76px;top:2137px;width:180.51px"><span style="transform:scaleX(0.909)">G-KIC</span></div>
<div class="t" style="left:2544.17px;top:2133px;width:541.53px"><span style="transform:scaleX(1.014)">Boecklsaal 27th 15:00-16:30</span></div>
</body>
</html>
